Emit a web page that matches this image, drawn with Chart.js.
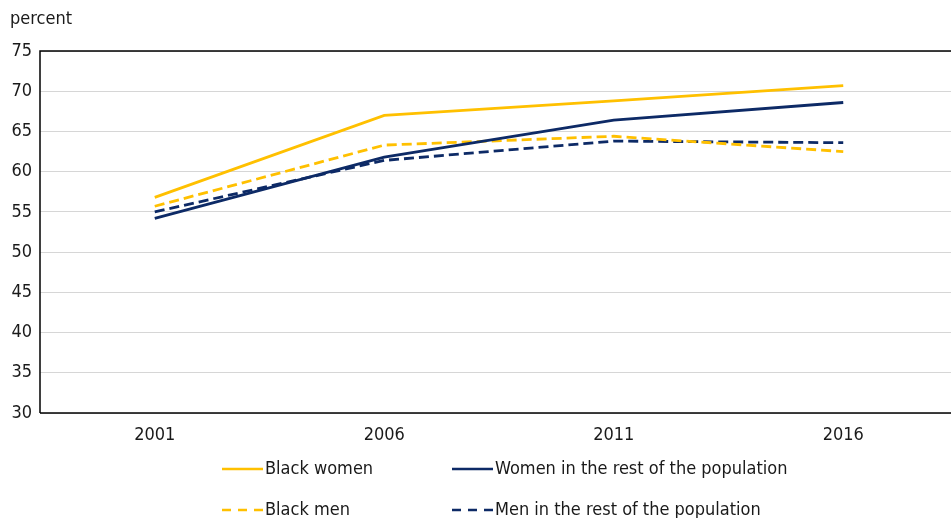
<!DOCTYPE html>
<html>
<head>
<meta charset="utf-8">
<script src="https://cdn.jsdelivr.net/npm/chart.js@4"></script>
<style>
  html, body { margin: 0; padding: 0; background: #fff; overflow: hidden; }
  #wrap { width: 960px; height: 518px; }
</style>
</head>
<body>
<div id="wrap"><canvas id="chart" width="960" height="518"></canvas></div>
<script>
// Data
const years = ["2001", "2006", "2011", "2016"];
const blackWomen = [56.8, 67.0, 68.8, 70.7];
const womenRest = [54.2, 61.8, 66.4, 68.6];
const blackMen = [55.7, 63.3, 64.4, 62.5];
const menRest = [55.0, 61.4, 63.8, 63.6];
const yTicks = [30, 35, 40, 45, 50, 55, 60, 65, 70, 75];

const YELLOW = "#ffc000";
const NAVY = "#0d2a66";
const FONT = "'Liberation Sans Narrow', 'DejaVu Sans Condensed', Arial, sans-serif";

// Frame (left/top/bottom) and two-column legend
const frameAndLegend = {
  id: "frameAndLegend",
  afterDraw(chart) {
    const ctx = chart.ctx;
    const a = chart.chartArea;
    ctx.save();
    ctx.strokeStyle = "#000";
    ctx.lineWidth = 1.5;
    ctx.beginPath();
    ctx.moveTo(a.left, a.bottom);
    ctx.lineTo(a.left, a.top);
    ctx.lineTo(a.right, a.top);
    ctx.moveTo(a.left, a.bottom);
    ctx.lineTo(a.right, a.bottom);
    ctx.stroke();

    // axis unit label
    ctx.fillStyle = "#1a1a1a";
    ctx.font = "18px " + FONT;
    ctx.textBaseline = "middle";
    ctx.textAlign = "left";
    ctx.fillText("percent", 10, 19);

    const items = [
      { ds: 0, x: 222, y: 469 },
      { ds: 1, x: 452, y: 469 },
      { ds: 2, x: 222, y: 510 },
      { ds: 3, x: 452, y: 510 },
    ];
    items.forEach((it) => {
      const ds = chart.data.datasets[it.ds];
      ctx.strokeStyle = ds.borderColor;
      ctx.lineWidth = 2.5;
      ctx.setLineDash(ds.borderDash ? [9, 7] : []);
      ctx.beginPath();
      ctx.moveTo(it.x, it.y);
      ctx.lineTo(it.x + 41, it.y);
      ctx.stroke();
      ctx.setLineDash([]);
      ctx.fillStyle = "#1a1a1a";
      ctx.fillText(ds.label, it.x + 43, it.y);
    });
    ctx.restore();
  },
};

new Chart(document.getElementById("chart").getContext("2d"), {
  type: "line",
  data: {
    labels: years,
    datasets: [
      { label: "Black women", data: blackWomen, borderColor: YELLOW },
      { label: "Women in the rest of the population", data: womenRest, borderColor: NAVY },
      { label: "Black men", data: blackMen, borderColor: YELLOW, borderDash: [10, 5] },
      { label: "Men in the rest of the population", data: menRest, borderColor: NAVY, borderDash: [10, 5] },
    ].map((d) => Object.assign(d, {
      borderWidth: 2.8,
      pointRadius: 0,
      tension: 0,
      fill: false,
    })),
  },
  options: {
    responsive: false,
    animation: false,
    layout: { padding: { top: 51, left: 0, right: 2, bottom: 65 } },
    plugins: {
      legend: { display: false },
      tooltip: { enabled: false },
    },
    scales: {
      x: {
        offset: true,
        grid: { display: false, drawTicks: false },
        border: { display: false },
        ticks: {
          color: "#1a1a1a",
          font: { family: FONT, size: 18 },
          padding: 12,
        },
        afterFit(scale) { scale.height = 40; },
      },
      y: {
        min: 30,
        max: 75,
        afterBuildTicks(scale) { scale.ticks = yTicks.map((v) => ({ value: v })); },
        grid: { color: "#d6d6d6", lineWidth: 1, drawTicks: false },
        border: { display: false },
        ticks: {
          color: "#1a1a1a",
          font: { family: FONT, size: 18 },
          padding: 8,
        },
        afterFit(scale) { scale.width = 40; },
      },
    },
  },
  plugins: [frameAndLegend],
});
</script>
</body>
</html>
